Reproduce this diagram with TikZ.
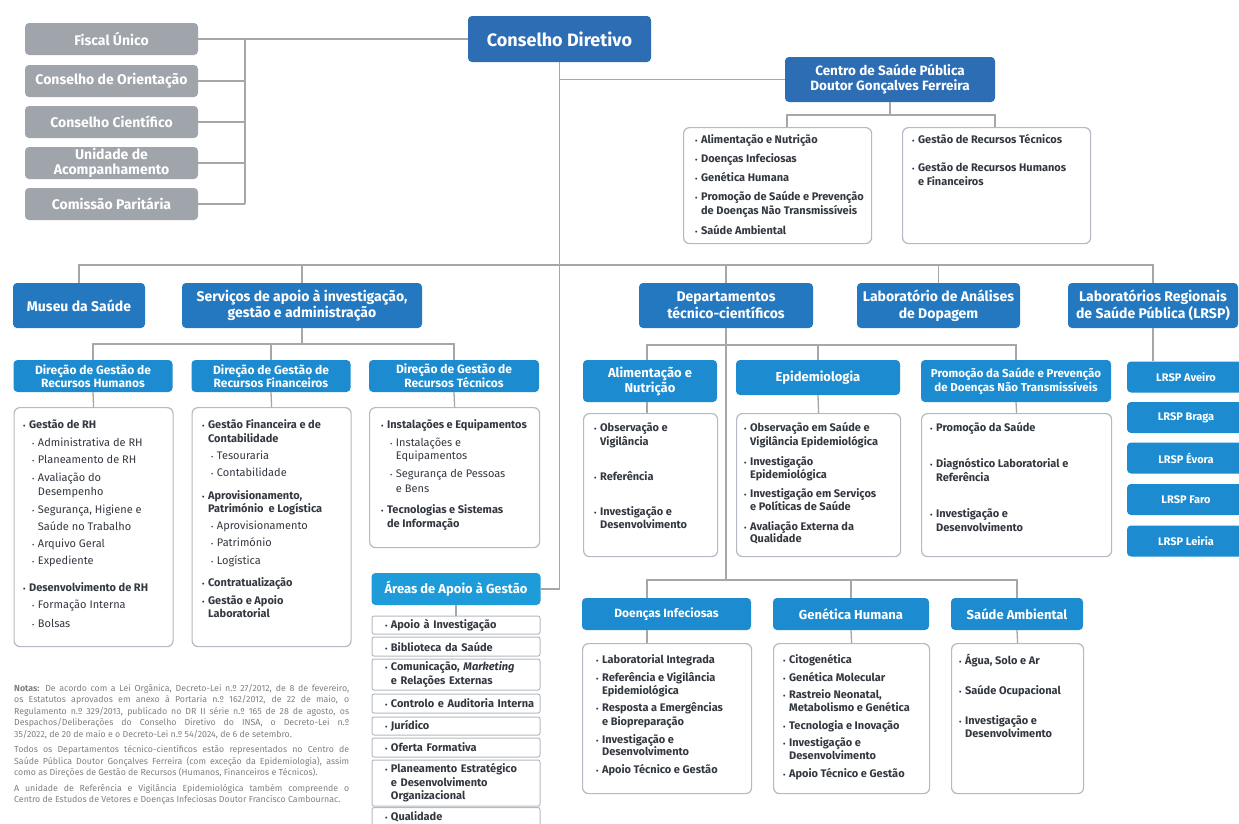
\documentclass[tikz,border=0pt]{standalone}
\usepackage{fontspec}
\setmainfont{Fira Sans}
\definecolor{boxgray}{HTML}{A0A4AB}
\definecolor{linegray}{HTML}{A5A7AA}
\definecolor{listgray}{HTML}{B4BAC3}
\definecolor{blueA}{HTML}{2D6DB4}
\definecolor{blueB}{HTML}{2478BF}
\definecolor{blueC}{HTML}{1C8BCF}
\definecolor{blueD}{HTML}{1E9CDA}
\definecolor{textdark}{HTML}{333840}
\definecolor{notegray}{HTML}{808080}
\newcommand\bu{{\fontsize{7}{7}\selectfont\textbullet}\hspace{3.5pt}}
\newcommand\cn{\hphantom{\bu}}
\newcommand\sit[1]{\hspace*{9pt}{\mdseries\bu#1}}
\newcommand\sct[1]{\hspace*{9pt}{\mdseries\cn#1}}
\newcommand\jl[1]{\makebox[335pt][s]{#1}}
\tikzset{
  link/.style={draw=linegray, line width=1.3pt},
  graybox/.style={fill=boxgray, rounded corners=4pt, text=white, align=center, inner sep=0pt,
    minimum width=173pt, minimum height=32pt, font=\fontsize{14}{15}\selectfont\bfseries},
  topbox/.style={fill=blueA, rounded corners=4pt, text=white, align=center, inner sep=0pt,
    font=\fontsize{13.5}{15}\selectfont\bfseries},
  headbox/.style={fill=blueB, rounded corners=4pt, text=white, align=center, inner sep=0pt,
    minimum height=45pt, font=\fontsize{14}{16.5}\selectfont\bfseries},
  subbox/.style={fill=blueC, rounded corners=4pt, text=white, align=center, inner sep=0pt,
    font=\fontsize{12}{13}\selectfont\bfseries},
  listbox/.style={draw=listgray, line width=1.2pt, rounded corners=6pt, fill=white,
    anchor=north west, inner sep=0pt},
  listtxt/.style={anchor=north west, align=left, inner sep=0pt, text=textdark,
    font=\fontsize{11}{13.5}\selectfont\bfseries},
  areaitem/.style={draw=listgray, line width=1pt, rounded corners=2pt, fill=white,
    minimum width=168pt, text width=160pt, inner xsep=4pt, inner ysep=0pt, align=left,
    text=textdark, font=\fontsize{11}{13.5}\selectfont\bfseries},
}
\begin{document}
\begin{tikzpicture}[x=1pt,y=-1pt]
\useasboundingbox (0,0) rectangle (1239,823);
\clip (0,0) rectangle (1239,823);
\fill[white] (0,0) rectangle (1239,823);

\node[graybox] (fiscal) at (111.5,39) {Fiscal Único};
\node[graybox] (orient) at (111.5,81) {Conselho de Orientação};
\node[graybox] (cientif) at (111.5,122) {Conselho Científico};
\node[graybox] (acomp) at (111.5,163) {Unidade de\\Acompanhamento};
\node[graybox] (paritaria) at (111.5,204) {Comissão Paritária};
\node[topbox, minimum width=183pt, minimum height=46pt, font=\fontsize{18}{20}\selectfont\bfseries] (cd) at (559.5,39) {Conselho Diretivo};
\node[topbox, minimum width=210pt, minimum height=45pt] (centro) at (890,79.5) {Centro de Saúde Pública\\Doutor Gonçalves Ferreira};
\coordinate (gv) at (245,0);
\draw[link] (fiscal.east) -- (fiscal.east -| cd.west);
\draw[link] (fiscal.east -| gv) -- (paritaria.east -| gv);
\draw[link] (orient.east) -- (orient.east -| gv);
\draw[link] (cientif.east) -- (cientif.east -| gv);
\draw[link] (acomp.east) -- (acomp.east -| gv);
\draw[link] (paritaria.east) -- (paritaria.east -| gv);

\node[listbox, minimum width=188pt, minimum height=116pt] (centroL) at (683,127) {};
\node[listbox, minimum width=188pt, minimum height=116pt] (centroR) at (902,127) {};
\coordinate (cbL) at (787,115);
\coordinate (cbR) at (995,115);
\draw[link] (cd.south |- centro.west) -- (centro.west);
\draw[link] (centro.south) -- (centro.south |- cbL);
\draw[link] (centroL.north -| cbL) -- (cbL) -- (cbR) -- (centroR.north -| cbR);
\node[listtxt] (centroLtxt) at (695,134) {\strut\bu Alimentação e Nutrição\\[5.5pt]
\bu Doenças Infeciosas\\[5.5pt]
\bu Genética Humana\\[5.5pt]
\bu Promoção de Saúde e Prevenção\\
\cn de Doenças Não Transmissíveis\\[6.5pt]
\bu Saúde Ambiental};
\node[listtxt] (centroRtxt) at (912,134) {\strut\bu Gestão de Recursos Técnicos\\[14.5pt]
\bu Gestão de Recursos Humanos\\
\cn e Financeiros};

\node[headbox, minimum width=132pt] (museu) at (79,305.5) {Museu da Saúde};
\node[headbox, minimum width=240pt] (servicos) at (302,305.5) {Serviços de apoio à investigação,\\gestão e administração};
\node[headbox, minimum width=174pt] (dept) at (726,305.5) {Departamentos\\técnico-científicos};
\node[headbox, minimum width=163pt] (lab) at (938.5,305.5) {Laboratório de Análises\\de Dopagem};
\node[headbox, minimum width=170pt] (lrsp) at (1153,305.5) {Laboratórios Regionais\\de Saúde Pública (LRSP)};
\coordinate (bus) at (560,265);
\draw[link] (museu.north) |- (bus) -| (lrsp.north);
\draw[link] (servicos.north) -- (servicos.north |- bus);
\draw[link] (dept.north) -- (dept.north |- bus);
\draw[link] (lab.north) -- (lab.north |- bus);

\node[subbox, minimum width=159pt, minimum height=32pt] (dgrh) at (93,376) {Direção de Gestão de\\Recursos Humanos};
\node[subbox, minimum width=159pt, minimum height=32pt] (dgrf) at (271,376) {Direção de Gestão de\\Recursos Financeiros};
\node[subbox, minimum width=170pt, minimum height=32pt] (dgrt) at (454,376) {Direção de Gestão de\\Recursos Técnicos};
\node[listbox, minimum width=159pt, minimum height=239pt] (dgrhL) at (13.5,407) {};
\node[listbox, minimum width=159pt, minimum height=239pt] (dgrfL) at (191.5,407) {};
\node[listbox, minimum width=170pt, minimum height=140pt] (dgrtL) at (369,407) {};
\coordinate (sb) at (302,344);
\draw[link] (servicos.south) -- (sb);
\draw[link] (dgrh.north) |- (sb) -| (dgrt.north);
\draw[link] (dgrf.north) -- (dgrf.north |- sb);
\draw[link] (dgrh.south) -- (dgrhL.north);
\draw[link] (dgrf.south) -- (dgrfL.north);
\draw[link] (dgrt.south) -- (dgrtL.north);
\node[listtxt] (dgrhtxt) at (23,419) {\strut\bu Gestão de RH\\[4pt]
\sit{Administrativa de RH}\\[4pt]
\sit{Planeamento de RH}\\[4pt]
\sit{Avaliação do}\\[0.5pt]
\sct{Desempenho}\\[4.5pt]
\sit{Segurança, Higiene e}\\[3.5pt]
\sct{Saúde no Trabalho}\\[3.5pt]
\sit{Arquivo Geral}\\[4pt]
\sit{Expediente}\\[13pt]
\bu Desenvolvimento de RH\\[4pt]
\sit{Formação Interna}\\[5pt]
\sit{Bolsas}};
\node[listtxt] (dgrftxt) at (202,419) {\strut\bu Gestão Financeira e de\\
\cn Contabilidade\\[3.5pt]
\sit{Tesouraria}\\[4pt]
\sit{Contabilidade}\\[9pt]
\bu Aprovisionamento,\\
\cn Património\ \ e Logística\\[3.5pt]
\sit{Aprovisionamento}\\[3.5pt]
\sit{Património}\\[4pt]
\sit{Logística}\\[9pt]
\bu Contratualização\\[4pt]
\bu Gestão e Apoio\\
\cn Laboratorial};
\node[listtxt] (dgrttxt) at (381,419) {\strut\bu Instalações e Equipamentos\\[4pt]
\sit{Instalações e}\\
\sct{Equipamentos}\\[4.5pt]
\sit{Segurança de Pessoas}\\[1pt]
\sct{e Bens}\\[8pt]
\bu Tecnologias e Sistemas\\
\cn de Informação};

\node[subbox, fill=blueD, minimum width=169pt, minimum height=32pt, font=\fontsize{13}{14}\selectfont\bfseries] (areas) at (456,589) {Áreas de Apoio à Gestão};
\draw[link] (cd.south) |- (areas.east);
\node[areaitem, minimum height=18pt] (ap1) at (456,625) {\hspace*{9pt}\bu Apoio à Investigação};
\node[areaitem, minimum height=19pt] (ap2) at (456,646.5) {\hspace*{9pt}\bu Biblioteca da Saúde};
\node[areaitem, minimum height=31pt] (ap3) at (456,674.5) {\hspace*{9pt}\bu Comunicação, \textit{Marketing}\\\hspace*{9pt}\cn e Relações Externas};
\node[areaitem, minimum height=19pt] (ap4) at (456,703.5) {\hspace*{9pt}\bu Controlo e Auditoria Interna};
\node[areaitem, minimum height=18pt] (ap5) at (456,726) {\hspace*{9pt}\bu Jurídico};
\node[areaitem, minimum height=19pt] (ap6) at (456,747.5) {\hspace*{9pt}\bu Oferta Formativa};
\node[areaitem, minimum height=46pt] (ap7) at (456,783) {\hspace*{9pt}\bu Planeamento Estratégico\\\hspace*{9pt}\cn e Desenvolvimento\\\hspace*{9pt}\cn Organizacional};
\node[areaitem, minimum height=18pt] (ap8) at (456,816.5) {\hspace*{9pt}\bu Qualidade};
\draw[link] (areas.south) -- (ap1.north);

\node[anchor=north west, align=left, inner sep=0pt, text=notegray, font=\fontsize{8.8}{11.5}\selectfont] (notas) at (14,683) {\strut\jl{\textbf{Notas:} De acordo com a Lei Orgânica, Decreto-Lei n.º 27/2012, de 8 de fevereiro,}\\
\jl{os Estatutos aprovados em anexo à Portaria n.º 162/2012, de 22 de maio, o}\\
\jl{Regulamento n.º 329/2013, publicado no DR II série n.º 165 de 28 de agosto, os}\\
\jl{Despachos/Deliberações do Conselho Diretivo do INSA, o Decreto-Lei n.º}\\
35/2022, de 20 de maio e o Decreto-Lei n.º 54/2024, de 6 de setembro.\\[4pt]
\jl{Todos os Departamentos técnico-científicos estão representados no Centro de}\\
\jl{Saúde Pública Doutor Gonçalves Ferreira (com exceção da Epidemiologia), assim}\\
como as Direções de Gestão de Recursos (Humanos, Financeiros e Técnicos).\\[4pt]
\jl{A unidade de Referência e Vigilância Epidemiológica também compreende o}\\
Centro de Estudos de Vetores e Doenças Infeciosas Doutor Francisco Cambournac.};

\node[subbox, minimum width=134pt, minimum height=42pt, font=\fontsize{13}{13}\selectfont\bfseries] (alim) at (650,381) {Alimentação e\\Nutrição};
\node[subbox, minimum width=164pt, minimum height=35pt, font=\fontsize{13}{13}\selectfont\bfseries] (epid) at (818,377.5) {Epidemiologia};
\node[subbox, minimum width=190pt, minimum height=42pt, font=\fontsize{11.5}{14}\selectfont\bfseries] (promo) at (1016,381) {Promoção da Saúde e Prevenção\\de Doenças Não Transmissíveis};
\node[listbox, minimum width=134pt, minimum height=143pt] (alimL) at (583,413) {};
\node[listbox, minimum width=164pt, minimum height=143pt] (epidL) at (736,413) {};
\node[listbox, minimum width=190pt, minimum height=143pt] (promoL) at (921,413) {};
\coordinate (db) at (726,345);
\coordinate (db2) at (726,580);
\coordinate (ax) at (647,345);
\draw[link] (dept.south) -- (db2);
\draw[link] (alim.north -| ax) |- (db) -| (promo.north);
\draw[link] (epid.north) -- (epid.north |- db);
\draw[link] (alim.south -| ax) -- (alimL.north -| ax);
\draw[link] (epid.south) -- (epidL.north);
\draw[link] (promo.south) -- (promoL.north);
\node[listtxt] (alimtxt) at (594,421.5) {\strut\bu Observação e\\[1pt]
\cn Vigilância\\[21.5pt]
\bu Referência\\[21pt]
\bu Investigação e\\
\cn Desenvolvimento};
\node[listtxt] (epidtxt) at (744,421.5) {\strut\bu Observação em Saúde e\\[1pt]
\cn Vigilância Epidemiológica\\[6pt]
\bu Investigação\\
\cn Epidemiológica\\[5pt]
\bu Investigação em Serviços\\
\cn e Políticas de Saúde\\[6pt]
\bu Avaliação Externa da\\[-1pt]
\cn Qualidade};
\node[listtxt] (promotxt) at (930,421.5) {\strut\bu Promoção da Saúde\\[23pt]
\bu Diagnóstico Laboratorial e\\
\cn Referência\\[23pt]
\bu Investigação e\\
\cn Desenvolvimento};

\node[subbox, minimum width=118pt, minimum height=31pt, font=\fontsize{11}{13}\selectfont\bfseries] (aveiro) at (1186,377) {LRSP Aveiro};
\node[subbox, minimum width=118pt, minimum height=31pt, font=\fontsize{11}{13}\selectfont\bfseries] (braga) at (1186,417.5) {LRSP Braga};
\node[subbox, minimum width=118pt, minimum height=31pt, font=\fontsize{11}{13}\selectfont\bfseries] (evora) at (1186,458) {LRSP Évora};
\node[subbox, minimum width=118pt, minimum height=31pt, font=\fontsize{11}{13}\selectfont\bfseries] (faro) at (1186,499.5) {LRSP Faro};
\node[subbox, minimum width=118pt, minimum height=31pt, font=\fontsize{11}{13}\selectfont\bfseries] (leiria) at (1186,541) {LRSP Leiria};
\draw[link] (lrsp.south) -- (lrsp.south |- aveiro.north);

\node[subbox, minimum width=169pt, minimum height=32pt] (doen) at (666.5,614) {Doenças Infeciosas};
\node[subbox, minimum width=156pt, minimum height=32pt, font=\fontsize{13}{13}\selectfont\bfseries] (gen) at (851,614) {Genética Humana};
\node[subbox, minimum width=132pt, minimum height=32pt, font=\fontsize{13}{13}\selectfont\bfseries] (saude) at (1017,614) {Saúde Ambiental};
\node[listbox, minimum width=169pt, minimum height=150pt] (doenL) at (582,643) {};
\node[listbox, minimum width=156pt, minimum height=150pt] (genL) at (773,643) {};
\node[listbox, minimum width=132pt, minimum height=150pt] (saudeL) at (951,643) {};
\draw[link] (doen.north -| ax) |- (db2) -| (saude.north);
\draw[link] (gen.north) -- (gen.north |- db2);
\draw[link] (doen.south -| ax) -- (doenL.north -| ax);
\draw[link] (gen.south) -- (genL.north);
\draw[link] (saude.south) -- (saudeL.north);
\node[listtxt] (doentxt) at (596,654) {\strut\bu Laboratorial Integrada\\[4pt]
\bu Referência e Vigilância\\
\cn Epidemiológica\\[3.5pt]
\bu Resposta a Emergências\\[0.5pt]
\cn e Biopreparação\\[4pt]
\bu Investigação e\\[-1pt]
\cn Desenvolvimento\\[4pt]
\bu Apoio Técnico e Gestão};
\node[listtxt] (gentxt) at (783,654) {\strut\bu Citogenética\\[4pt]
\bu Genética Molecular\\[4pt]
\bu Rastreio Neonatal,\\[-1pt]
\cn Metabolismo e Genética\\[4.5pt]
\bu Tecnologia e Inovação\\[3.5pt]
\bu Investigação e\\
\cn Desenvolvimento\\[4pt]
\bu Apoio Técnico e Gestão};
\node[listtxt] (saudetxt) at (959,654) {\strut\bu Água, Solo e Ar\\[16.5pt]
\bu Saúde Ocupacional\\[16pt]
\bu Investigação e\\
\cn Desenvolvimento};
\end{tikzpicture}
\end{document}
